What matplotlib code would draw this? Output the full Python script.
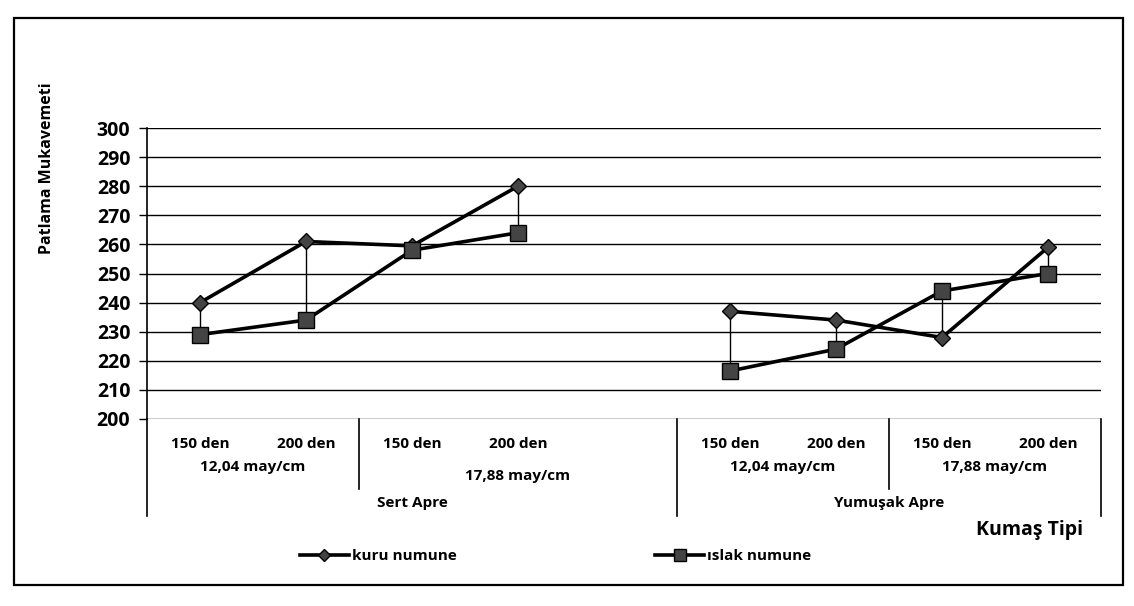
import numpy as np
import matplotlib

matplotlib.use("Agg")
import matplotlib.pyplot as plt
from matplotlib.lines import Line2D
from matplotlib.patches import Rectangle

plt.rcParams.update(
    {
        "font.family": ["Open Sans", "DejaVu Sans"],
        "font.weight": "bold",
        "figure.facecolor": "white",
    }
)

# data (category 4 is the empty slot between the two finish groups)
den_labels = ["150 den", "200 den", "150 den", "200 den", "", "150 den", "200 den", "150 den", "200 den"]
kuru = [240, 261, 259.5, 280, np.nan, 237, 234, 228, 259]
islak = [229, 234, 258, 264, np.nan, 216.5, 224, 244, 250]
density_labels = ["12,04 may/cm", "17,88 may/cm", "12,04 may/cm", "17,88 may/cm"]
density_centers = [0.5, 3.0, 5.5, 7.5]
finish_labels = ["Sert Apre", "Yumuşak Apre"]
finish_centers = [2.0, 6.5]
y_ticks = list(range(200, 301, 10))

x = np.arange(len(den_labels))

fig = plt.figure(figsize=(11.34, 6.06), dpi=100)
ax = fig.add_axes([147 / 1134, 1 - 419 / 606, (1101 - 147) / 1134, 291 / 606])

# outer chart frame
fig.patches.append(
    Rectangle((0.012, 0.035), 0.978, 0.935, transform=fig.transFigure,
              fill=False, edgecolor="black", linewidth=1.6)
)

for v in y_ticks:
    ax.axhline(v, color="black", linewidth=1.0, zorder=1)

# high-low lines between the two series
for xi, a, b in zip(x, kuru, islak):
    if not np.isnan(a):
        ax.plot([xi, xi], [min(a, b), max(a, b)], color="black", linewidth=1.0, zorder=2)

ax.plot(x, kuru, color="black", linewidth=2.6, marker="D", markersize=8,
        markerfacecolor="#444444", markeredgecolor="black", zorder=3, label="kuru numune")
ax.plot(x, islak, color="black", linewidth=2.6, marker="s", markersize=11,
        markerfacecolor="#444444", markeredgecolor="black", zorder=3, label="ıslak numune")

ax.set_xlim(-0.5, len(den_labels) - 0.5)
ax.set_ylim(200, 300)
ax.set_yticks(y_ticks)
ax.set_xticks([])
ax.tick_params(axis="y", direction="out", length=6, width=1, pad=6, labelsize=14)
for s in ["top", "right", "bottom"]:
    ax.spines[s].set_visible(False)
ax.spines["left"].set_linewidth(1.2)

# multi-level category axis
tr = ax.get_xaxis_transform()
for xi, lab in zip(x, den_labels):
    ax.text(xi, -0.086, lab, transform=tr, ha="center", va="center", fontsize=11)
for i, (c, lab) in enumerate(zip(density_centers, density_labels)):
    yy = -0.195 if i == 1 else -0.165
    ax.text(c, yy, lab, transform=tr, ha="center", va="center", fontsize=11)
for c, lab in zip(finish_centers, finish_labels):
    ax.text(c, -0.29, lab, transform=tr, ha="center", va="center", fontsize=11)

for xs in [1.5, 6.5]:
    ax.plot([xs, xs], [0, -0.24], transform=tr, color="black", linewidth=1.2, clip_on=False)
for xs in [-0.5, 4.5, 8.5]:
    ax.plot([xs, xs], [0, -0.335], transform=tr, color="black", linewidth=1.2, clip_on=False)

fig.text(47 / 1134, 1 - 168 / 606, "Patlama Mukavemeti", rotation=90,
         ha="center", va="center", fontsize=11.5)
fig.text(1030 / 1134, 1 - 530 / 606, "Kumaş Tipi", ha="center", va="center", fontsize=14)

handles = [
    Line2D([], [], color="black", linewidth=2.6, marker="D", markersize=6,
           markerfacecolor="#444444", markeredgecolor="black"),
    Line2D([], [], color="black", linewidth=2.6, marker="s", markersize=8,
           markerfacecolor="#444444", markeredgecolor="black"),
]
fig.legend(handles, ["kuru numune", "ıslak numune"], ncol=2, loc="center",
           bbox_to_anchor=(0.49, 1 - 556 / 606), frameon=False, columnspacing=13,
           handlelength=3.2, handletextpad=0.2, fontsize=11)

fig.savefig("out.png", dpi=100)
